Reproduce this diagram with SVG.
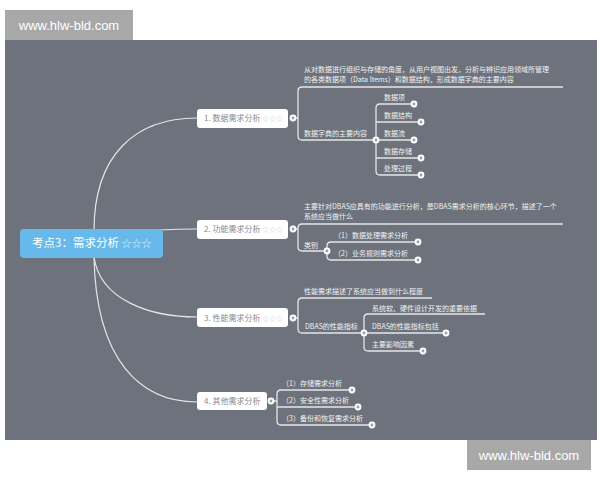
<svg xmlns="http://www.w3.org/2000/svg" width="600" height="480" viewBox="0 0 600 480">
<style>
.ln{fill:none;stroke:#e6e6e6;stroke-width:1.3}
.tr{fill:none;stroke:#e6e6e6;stroke-width:1.2}
.t{font-family:"Noto Sans CJK SC",sans-serif;font-size:7px;fill:#f2f2f2}
.nt{font-family:"Noto Sans CJK SC",sans-serif;font-size:8px;fill:#8a8a8a}
.st{fill:#cfcfcf}
.box{fill:#ffffff}
.dot{fill:#ffffff;stroke:#c8c8c8;stroke-width:0.8}
.wm{font-family:"Liberation Sans",Arial,sans-serif;font-size:13px;fill:#ffffff}
</style>
<defs>
<g id="d"><circle r="3.4" fill="#ffffff"/><circle r="1.4" fill="#9a9ea6"/></g>
</defs>
<rect x="0" y="0" width="600" height="480" fill="#ffffff"/>
<rect x="5" y="40" width="592" height="400" fill="#6d727d"/>
<g id="wm1"><rect x="5" y="10" width="128" height="30" fill="#a8a8a8"/><text class="wm" x="69" y="30" text-anchor="middle">www.hlw-bld.com</text></g>
<g id="wm2"><rect x="467" y="440" width="124" height="30" fill="#a8a8a8"/><text class="wm" x="529" y="460" text-anchor="middle">www.hlw-bld.com</text></g>

<g id="connectors">
<path class="tr" d="M94,231 C94,155 135,118 197,118"/>
<path class="tr" d="M160,230 C178,229 186,229 197,229"/>
<path class="tr" d="M94,257 C100,300 150,317 197,317"/>
<path class="tr" d="M94,257 C96,360 140,402 197,402"/>
<!-- node1 -->
<path class="ln" d="M293,118 H298 M563,87 H302 Q298,87 298,91 V136 Q298,140 302,140 H376"/>
<path class="ln" d="M414,104 H380 Q376,104 376,108 V171 Q376,175 380,175 H421 M376,122 H421 M376,140 H414 M376,158 H421"/>
<!-- node2 -->
<path class="ln" d="M293,229 H298 M563,224 H302 Q298,224 298,228 V247 Q298,251 302,251 H327"/>
<path class="ln" d="M418,242 H331 Q327,242 327,246 V256 Q327,260 331,260 H418"/>
<!-- node3 -->
<path class="ln" d="M293,318 H298 M432,298 H302 Q298,298 298,302 V329 Q298,333 302,333 H364"/>
<path class="ln" d="M485,314 H368 Q364,314 364,318 V347 Q364,351 368,351 H423 M364,333 H446"/>
<!-- node4 -->
<path class="ln" d="M271,401 H277 M352,390 H281 Q277,390 277,394 V421 Q277,425 281,425 H372 M277,407 H358"/>
<!-- dots -->
<use href="#d" x="293" y="118"/>
<use href="#d" x="376" y="140"/>
<use href="#d" x="414" y="104"/>
<use href="#d" x="421" y="122"/>
<use href="#d" x="414" y="140"/>
<use href="#d" x="421" y="158"/>
<use href="#d" x="421" y="175"/>
<use href="#d" x="293" y="229"/>
<use href="#d" x="327" y="251"/>
<use href="#d" x="418" y="242"/>
<use href="#d" x="418" y="260"/>
<use href="#d" x="293" y="318"/>
<use href="#d" x="364" y="333"/>
<use href="#d" x="446" y="333"/>
<use href="#d" x="423" y="351"/>
<use href="#d" x="271" y="401"/>
<use href="#d" x="352" y="390"/>
<use href="#d" x="358" y="407"/>
<use href="#d" x="372" y="425"/>
</g>

<g id="root">
<rect x="20" y="229" width="143" height="29" rx="4" fill="#66b9ea"/>
<text x="32" y="246.5" font-family="'Noto Sans CJK SC',sans-serif" font-size="11.5" fill="#ffffff">考点3：需求分析 <tspan fill="#d6ecfa" font-size="10">☆☆☆</tspan></text>
</g>

<g id="n1">
<rect class="box" x="197" y="109" width="91" height="19" rx="3"/>
<text class="nt" x="204" y="121">1. 数据需求分析 <tspan class="st" font-size="7">☆☆☆</tspan></text>
</g>
<g id="n1-desc"><text class="t" x="304" y="72">从对数据进行组织与存储的角度，从用户视图出发，分析与辨识应用领域所管理</text><text class="t" x="304" y="82">的各类数据项（Data Items）和数据结构，形成数据字典的主要内容</text></g>
<g id="n1-dict"><text class="t" x="304" y="136">数据字典的主要内容</text></g>
<g id="n1-c1"><text class="t" x="384" y="100">数据项</text></g>
<g id="n1-c2"><text class="t" x="384" y="118">数据结构</text></g>
<g id="n1-c3"><text class="t" x="384" y="136">数据流</text></g>
<g id="n1-c4"><text class="t" x="384" y="154">数据存储</text></g>
<g id="n1-c5"><text class="t" x="384" y="171">处理过程</text></g>

<g id="n2">
<rect class="box" x="197" y="220" width="91" height="19" rx="3"/>
<text class="nt" x="204" y="232">2. 功能需求分析 <tspan class="st" font-size="7">☆☆☆</tspan></text>
</g>
<g id="n2-desc"><text class="t" x="304" y="209">主要针对DBAS应具有的功能进行分析，是DBAS需求分析的核心环节，描述了一个</text><text class="t" x="304" y="219">系统应当做什么</text></g>
<g id="n2-cat"><text class="t" x="304" y="248">类别</text></g>
<g id="n2-c1"><text class="t" x="334" y="238">（1）数据处理需求分析</text></g>
<g id="n2-c2"><text class="t" x="334" y="256">（2）业务规则需求分析</text></g>

<g id="n3">
<rect class="box" x="197" y="308" width="91" height="19" rx="3"/>
<text class="nt" x="204" y="320.5">3. 性能需求分析 <tspan class="st" font-size="7">☆☆☆</tspan></text>
</g>
<g id="n3-desc"><text class="t" x="304" y="294">性能需求描述了系统应当做到什么程度</text></g>
<g id="n3-idx"><text class="t" x="305" y="329">DBAS的性能指标</text></g>
<g id="n3-c1"><text class="t" x="372" y="311">系统软、硬件设计开发的重要依据</text></g>
<g id="n3-c2"><text class="t" x="372" y="329">DBAS的性能指标包括</text></g>
<g id="n3-c3"><text class="t" x="372" y="347">主要影响因素</text></g>

<g id="n4">
<rect class="box" x="197" y="392" width="70" height="18" rx="3"/>
<text class="nt" x="204" y="404">4. 其他需求分析</text>
</g>
<g id="n4-c1"><text class="t" x="282" y="386">（1）存储需求分析</text></g>
<g id="n4-c2"><text class="t" x="282" y="403">（2）安全性需求分析</text></g>
<g id="n4-c3"><text class="t" x="282" y="421">（3）备份和恢复需求分析</text></g>
</svg>
